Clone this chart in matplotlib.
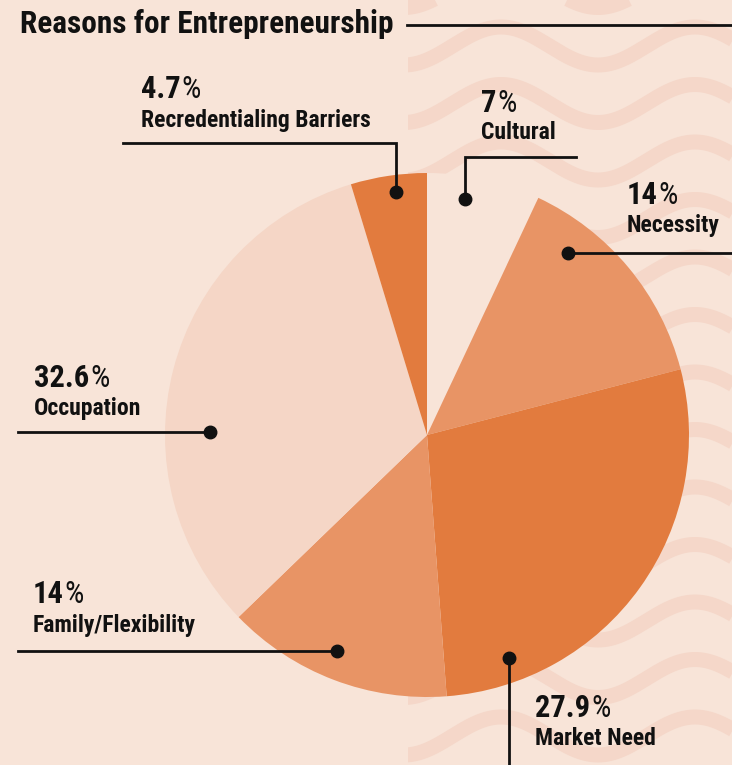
import matplotlib
matplotlib.use('Agg')
import matplotlib.pyplot as plt
from matplotlib import font_manager
from matplotlib.patches import Rectangle
import numpy as np

W, H = 732, 765

# pie data, clockwise from 12 o'clock
labels = ['Cultural', 'Necessity', 'Market Need', 'Family/Flexibility',
          'Occupation', 'Recredentialing Barriers']
shares = [7, 14, 27.9, 14, 32.6, 4.7]
title = 'Reasons for Entrepreneurship'

bg = '#f8e4d8'
wave_col = '#f5d7c9'
colors = [bg, '#e89465', '#e27b3e', '#e89465', '#f5d6c6', '#e27b3e']

# callout layout in pixel coords (y measured from the top)
# text: (x, number baseline, label baseline); leader: polyline ending at the dot
text_pos = [(481, 112, 139), (627, 204, 232), (535, 717, 745),
            (33, 603, 632), (34, 387, 415), (141, 98, 127)]
leaders = [
    [(576, 157), (465, 157), (465, 199)],
    [(732, 253), (568, 253)],
    [(509, 765), (509, 658)],
    [(18, 651), (337, 651)],
    [(18, 432), (210, 432)],
    [(123, 143), (396, 143), (396, 192)],
]

names = {f.name for f in font_manager.fontManager.ttflist}
font = next((f for f in ['Liberation Sans Narrow', 'Roboto Condensed', 'DejaVu Sans']
             if f in names), 'DejaVu Sans')
plt.rcParams['font.family'] = [font, 'DejaVu Sans']

fig = plt.figure(figsize=(W / 100, H / 100), dpi=100, facecolor=bg)
ax = fig.add_axes([0, 0, 1, 1])
ax.set_facecolor(bg)


def fy(y):
    return H - y


# wavy background strip on the right
clip = Rectangle((408, 0), W - 408, H, transform=ax.transData)
xs = np.linspace(380, 760, 600)
for k in range(-2, 15):
    ys = 46 + 57.5 * k - 19 * np.cos(2 * np.pi * (xs - 501) / 194)
    ln, = ax.plot(xs, fy(ys), color=wave_col, lw=10.8, solid_capstyle='butt', zorder=0)
    ln.set_clip_path(clip)

ax.pie(shares, colors=colors, startangle=90, counterclock=False,
       center=(427, fy(435)), radius=262, wedgeprops=dict(linewidth=0))

ax.set_xlim(0, W)
ax.set_ylim(0, H)
ax.set_aspect('auto')
ax.axis('off')

# title and its rule
ax.text(20, fy(33), title, fontsize=22.5, weight='bold', color='#111111', zorder=5)
ax.plot([407, W], [fy(25), fy(25)], color='#111111', lw=2, zorder=3)

fig.canvas.draw()
rend = fig.canvas.get_renderer()

for lab, val, (tx, yn, yl), path in zip(labels, shares, text_pos, leaders):
    px = [p[0] for p in path]
    py = [fy(p[1]) for p in path]
    ax.plot(px, py, color='#111111', lw=2, zorder=3, solid_joinstyle='miter')
    ax.plot(px[-1], py[-1], 'o', color='#111111', ms=9, zorder=4)

    t = ax.text(tx, fy(yn), f'{val:g}', fontsize=22, weight='bold',
                color='#111111', zorder=5)
    bb = t.get_window_extent(rend)
    ax.text(bb.x1 + 1, fy(yn), '%', fontsize=22, weight='normal',
            color='#111111', zorder=5)
    ax.text(tx, fy(yl), lab, fontsize=17, weight='bold', color='#111111', zorder=5)

fig.savefig('out.png', dpi=100, facecolor=bg)
